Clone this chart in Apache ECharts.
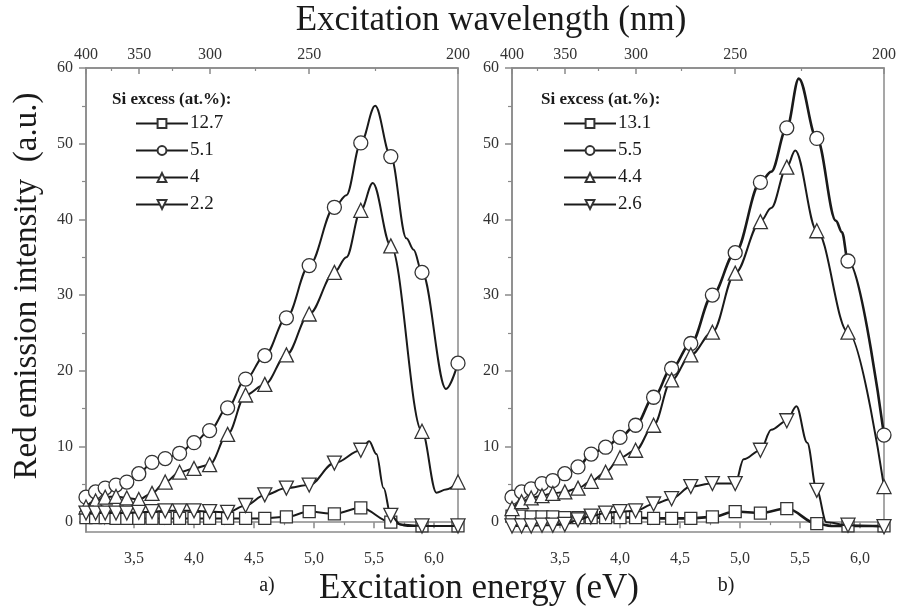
<!DOCTYPE html>
<html>
<head>
<meta charset="utf-8">
<script src="https://cdn.jsdelivr.net/npm/echarts@6/dist/echarts.min.js"></script>
<style>html,body{margin:0;padding:0;background:#fff}#c{width:901px;height:608px}</style>
</head>
<body>
<div id="c"></div>
<script>
// ---- data ----
// excitation energies of the measured points (eV) = 400,390,...,200 nm
var energyEV = [3.10, 3.18, 3.26, 3.35, 3.44, 3.54, 3.65, 3.76, 3.88, 4.00, 4.13, 4.28, 4.43, 4.59, 4.77, 4.96, 5.17, 5.39, 5.64, 5.90, 6.20];
var energyTicks = [3.5, 4.0, 4.5, 5.0, 5.5, 6.0];
var energyMinorTicks = [3.25, 3.75, 4.25, 4.75, 5.25, 5.75];
var wavelengthTicks = [400, 350, 300, 250, 200];
var wavelengthMinorTicks = [375, 325, 275, 225];
var intensityTicks = [0, 10, 20, 30, 40, 50, 60];
var intensityMinorTicks = [5, 15, 25, 35, 45, 55];

// panel a) Si excess (at.%)
var namesA = ['12.7', '5.1', '4', '2.2'];
var a_12_7 = [0.6,0.6,0.6,0.5,0.5,0.5,0.5,0.5,0.5,0.5,0.5,0.5,0.5,0.5,0.7,1.4,1.1,1.9,0.0,-0.5,-0.5];
var a_5_1  = [3.3,4.0,4.5,4.9,5.3,6.4,7.9,8.4,9.1,10.5,12.1,15.1,18.9,22.0,27.0,33.9,41.6,50.1,48.3,33.0,21.0];
var a_4    = [2.0,2.8,3.3,3.4,3.2,3.0,3.8,5.3,6.6,7.1,7.6,11.6,16.8,18.2,22.1,27.5,33.0,41.2,36.5,12.0,5.3];
var a_2_2  = [1.2,1.2,1.2,1.2,1.2,1.3,1.4,1.5,1.5,1.5,1.4,1.3,2.2,3.6,4.5,4.9,7.8,9.5,0.9,-0.5,-0.5];
// extra points of the drawn spline between markers [eV, value]
var a_12_7_curve = [[5.78,-0.5]];
var a_5_1_curve  = [[5.27,43.2],[5.51,55.0],[5.77,37.5],[5.83,36.0],[6.10,17.6]];
var a_4_curve    = [[5.27,35.0],[5.49,44.8],[6.02,3.9],[6.10,4.3]];
var a_2_2_curve  = [[5.46,10.7],[5.52,9.0],[5.58,4.5],[5.72,-0.3]];

// panel b) Si excess (at.%)
var namesB = ['13.1', '5.5', '4.4', '2.6'];
var b_13_1 = [0.8,0.8,0.7,0.7,0.7,0.6,0.6,0.6,0.6,0.6,0.6,0.5,0.5,0.5,0.7,1.4,1.2,1.8,-0.2,-0.5,-0.5];
var b_5_5  = [3.3,4.0,4.4,5.1,5.5,6.4,7.3,9.0,9.9,11.2,12.8,16.5,20.3,23.6,30.0,35.6,44.9,52.1,50.7,34.5,11.5];
var b_4_4  = [1.8,2.7,3.2,3.5,3.8,4.0,4.5,5.4,6.6,8.5,9.5,12.8,18.8,22.1,25.1,32.9,39.7,46.9,38.5,25.1,4.7];
var b_2_6  = [-0.5,-0.5,-0.5,-0.4,-0.4,-0.3,0.3,0.8,1.2,1.4,1.5,2.4,3.1,4.7,5.1,5.1,9.5,13.4,4.2,-0.4,-0.6];
var b_13_1_curve = [[5.76,-0.5]];
var b_5_5_curve  = [[5.26,46.3],[5.49,58.6],[5.80,39.8],[5.85,38.3]];
var b_4_4_curve  = [[5.26,41.5],[5.46,49.1]];
var b_2_6_curve  = [[5.03,8.3],[5.26,12.2],[5.47,15.3],[5.56,10.5],[5.72,0.0]];

// ---- build ----
var FONT = 'Liberation Serif';
var AX = '#8a8a8a';
var LAB = '#333';
var INK = '#1a1a1a';

function buildData(values, curve) {
  var pts = [];
  for (var i = 0; i < energyEV.length; i++) pts.push({ value: [energyEV[i], values[i]] });
  for (var j = 0; j < curve.length; j++) pts.push({ value: curve[j], symbol: 'none' });
  pts.sort(function (p, q) { return p.value[0] - q.value[0]; });
  return pts;
}

var markers = [
  { symbol: 'rect', size: 12, rotate: 0 },
  { symbol: 'circle', size: 14, rotate: 0 },
  { symbol: 'triangle', size: 14, rotate: 0 },
  { symbol: 'triangle', size: 14, rotate: 180 }
];

function makeSeries(name, values, curve, k, xi, yi, lw) {
  return {
    type: 'line', name: name, xAxisIndex: xi, yAxisIndex: yi,
    data: buildData(values, curve),
    smooth: 0.35, smoothMonotone: 'x',
    symbol: markers[k].symbol, symbolSize: markers[k].size, symbolRotate: markers[k].rotate,
    showAllSymbol: true,
    lineStyle: { color: INK, width: lw },
    itemStyle: { color: '#ffffff', borderColor: '#333', borderWidth: 1.3 },
    emphasis: { disabled: true },
    z: 2 + k
  };
}

function xAxes(g) {
  var base = { gridIndex: g, type: 'value', min: 3.1, max: 6.2, splitLine: { show: false } };
  return [
    Object.assign({}, base, {
      position: 'bottom',
      axisLine: { show: true, lineStyle: { color: AX, width: 1.5 } },
      axisTick: { show: true, length: 6, customValues: energyTicks, lineStyle: { color: AX, width: 1.5 } },
      axisLabel: { show: true, customValues: energyTicks, margin: 19, fontFamily: FONT, fontSize: 16, color: LAB,
        formatter: function (v) { return v.toFixed(1).replace('.', ','); } }
    }),
    Object.assign({}, base, {
      position: 'bottom',
      axisLine: { show: false },
      axisTick: { show: true, length: 3, customValues: energyMinorTicks, lineStyle: { color: AX, width: 1.2 } },
      axisLabel: { show: false }
    }),
    Object.assign({}, base, {
      position: 'top',
      axisLine: { show: true, lineStyle: { color: AX, width: 1.5 } },
      axisTick: { show: true, inside: true, length: 6, customValues: wavelengthTicks.map(function (w) { return 1240 / w; }), lineStyle: { color: AX, width: 1.5 } },
      axisLabel: { show: true, customValues: wavelengthTicks.map(function (w) { return 1240 / w; }), margin: 5, fontFamily: FONT, fontSize: 16, color: LAB,
        formatter: function (v) { return String(Math.round(1240 / v)); } }
    }),
    Object.assign({}, base, {
      position: 'top',
      axisLine: { show: false },
      axisTick: { show: true, inside: true, length: 3, customValues: wavelengthMinorTicks.map(function (w) { return 1240 / w; }), lineStyle: { color: AX, width: 1.2 } },
      axisLabel: { show: false }
    })
  ];
}

function yAxes(g) {
  var base = { gridIndex: g, type: 'value', min: -1.3, max: 60, position: 'left', splitLine: { show: false } };
  var major = Object.assign({}, base, {
    axisLine: { show: true, lineStyle: { color: AX, width: 1.5 } },
    axisTick: { show: true, length: 7, customValues: intensityTicks, lineStyle: { color: AX, width: 1.5 } },
    axisLabel: { show: true, customValues: intensityTicks, margin: 13, fontFamily: FONT, fontSize: 16, color: LAB }
  });
  var minor = Object.assign({}, base, {
    axisLine: { show: false },
    axisTick: { show: true, length: 4, customValues: intensityMinorTicks, lineStyle: { color: AX, width: 1.2 } },
    axisLabel: { show: false }
  });
  return [major, minor];
}

var series = [];
var arrA = [a_12_7, a_5_1, a_4, a_2_2], curA = [a_12_7_curve, a_5_1_curve, a_4_curve, a_2_2_curve];
var arrB = [b_13_1, b_5_5, b_4_4, b_2_6], curB = [b_13_1_curve, b_5_5_curve, b_4_4_curve, b_2_6_curve];
for (var k = 0; k < 4; k++) series.push(makeSeries(namesA[k], arrA[k], curA[k], k, 0, 0, 2));
for (var k2 = 0; k2 < 4; k2++) series.push(makeSeries(namesB[k2], arrB[k2], curB[k2], k2, 4, 2, k2 < 2 ? 2.6 : 2));

function legend(names, left) {
  return {
    data: names, orient: 'vertical', left: left, top: 109,
    itemWidth: 52, itemHeight: 11, itemGap: 8,
    textStyle: { fontFamily: FONT, fontSize: 19, color: INK, padding: [0, 0, 0, -3] },
    selectedMode: false
  };
}

var option = {
  animation: false,
  backgroundColor: '#ffffff',
  title: [
    { text: 'Excitation wavelength (nm)', left: 486, top: -2, textAlign: 'center',
      textStyle: { fontFamily: FONT, fontSize: 35, fontWeight: 'normal', color: INK } },
    { text: 'Excitation energy (eV)', left: 474, top: 566, textAlign: 'center',
      textStyle: { fontFamily: FONT, fontSize: 35, fontWeight: 'normal', color: INK } },
    { text: 'a)', left: 262, top: 571, textAlign: 'center',
      textStyle: { fontFamily: FONT, fontSize: 20, fontWeight: 'normal', color: INK } },
    { text: 'b)', left: 721, top: 571, textAlign: 'center',
      textStyle: { fontFamily: FONT, fontSize: 20, fontWeight: 'normal', color: INK } },
    { text: 'Si excess (at.%):', left: 107, top: 86,
      textStyle: { fontFamily: FONT, fontSize: 17, fontWeight: 'bold', color: INK } },
    { text: 'Si excess (at.%):', left: 536, top: 86,
      textStyle: { fontFamily: FONT, fontSize: 17, fontWeight: 'bold', color: INK } }
  ],
  graphic: [
    { type: 'text', x: 27, y: 286, rotation: Math.PI / 2,
      style: { text: 'Red emission intensity  (a.u.)', fontFamily: FONT, fontSize: 33, fill: INK,
        align: 'center', verticalAlign: 'middle' } }
  ],
  legend: [legend(namesA, 130), legend(namesB, 558)],
  grid: [
    { left: 86, top: 68, width: 372, height: 464, show: true, borderColor: AX, borderWidth: 1.5, backgroundColor: 'transparent' },
    { left: 512, top: 68, width: 372, height: 464, show: true, borderColor: AX, borderWidth: 1.5, backgroundColor: 'transparent' }
  ],
  xAxis: xAxes(0).concat(xAxes(1)),
  yAxis: yAxes(0).concat(yAxes(1)),
  series: series
};

var chart = echarts.init(document.getElementById('c'), null, { renderer: 'canvas' });
chart.setOption(option);
</script>
</body>
</html>
